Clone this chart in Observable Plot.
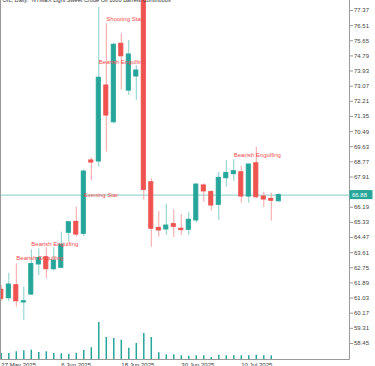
<!DOCTYPE html>
<html><head><meta charset="utf-8">
<script src="https://cdn.jsdelivr.net/npm/d3@7"></script>
<script src="https://cdn.jsdelivr.net/npm/@observablehq/plot@0.6"></script>
<style>
html,body{margin:0;padding:0;background:#fff;}
#chart{position:relative;width:375px;height:366px;overflow:hidden;background:#fff;}
#chart svg{position:absolute;left:0;top:0;}
</style></head><body><div id="chart"></div>
<script>
const title = "OIL, Daily:  NYMEX Light Sweet Crude Oil 1000 Barrels Continuous";
const opens  = [61.50,61.02,61.76,60.78,61.23,62.94,63.35,62.67,62.75,64.74,65.36,64.68,68.85,68.79,73.11,71.02,75.48,72.82,73.62,78.20,67.61,65.02,64.93,65.23,64.97,64.91,65.44,67.43,67.05,66.33,67.84,68.07,68.18,66.80,68.69,66.80,66.67,66.53];
const highs  = [61.75,62.44,62.98,61.65,63.77,63.83,63.89,63.89,64.77,65.38,66.19,68.32,69.00,77.56,76.61,75.51,76.05,75.67,74.24,78.40,67.81,65.95,66.35,66.05,65.78,65.91,67.52,67.52,67.14,68.18,68.85,68.89,68.51,68.62,69.60,67.05,66.99,66.96];
const lows   = [60.85,60.84,60.51,59.76,61.18,62.31,62.14,62.56,62.72,64.21,64.49,64.53,67.71,68.47,69.32,70.93,72.86,72.54,72.26,66.61,63.92,64.49,64.59,64.46,64.59,64.59,65.29,66.48,65.97,65.44,67.33,67.67,66.42,66.42,66.67,66.19,65.40,66.48];
const closes = [60.99,61.80,60.85,60.85,62.96,63.30,62.67,63.16,64.06,65.34,64.64,68.22,68.73,73.55,71.40,75.42,74.77,74.87,73.96,67.18,64.97,64.87,65.15,65.08,64.89,65.48,67.48,67.09,66.29,67.86,68.13,68.24,66.80,68.62,66.76,66.63,66.56,66.88];
const volumes = [60,60,77,87,93,70,77,60,57,53,63,90,117,370,220,210,193,113,160,260,220,67,47,47,37,33,37,37,20,43,37,37,37,37,43,37,37,0];
const dateTickIndex = [0, 8, 16, 24, 32];
const dateTickLabels = ["27 May 2025", "6 Jun 2025", "18 Jun 2025", "30 Jun 2025", "10 Jul 2025"];
const priceTicks = [58.45,59.31,60.17,61.03,61.89,62.75,63.61,64.47,65.33,66.19,67.05,67.91,68.77,69.63,70.49,71.35,72.21,73.07,73.93,74.79,75.65,76.51,77.37];
const patternNames = ["Bearish Engulfing","Bearish Engulfing","Evening Star","Bearish Engulfing","Shooting Star","Bearish Engulfing"];
const patternIndex = [2, 4, 11, 13, 14, 31];
const patternLevel = [63.28, 64.07, 66.86, 74.43, 76.90, 69.13];
const lastPrice = closes[closes.length - 1];

const teal = "#26a69a", red = "#ef5350";
const tealWick = "#86cfc7", redWick = "#f6a3a3";
const W = 375, H = 366, mL = 0, mR = 26, mT = 0, mB = 7;
const xDomain = [-0.107, 46.43];
const font = "'Liberation Sans', Arial, sans-serif";

const data = opens.map((o, i) => ({i, open: o, high: highs[i], low: lows[i], close: closes[i], vol: volumes[i]}));
const up = d => d.close >= d.open;
const patterns = patternNames.map((n, k) => ({name: n, i: patternIndex[k], y: patternLevel[k]}));
const dateTicks = dateTickIndex.map((i, k) => ({i, label: dateTickLabels[k]}));

const volPlot = Plot.plot({
  width: W, height: H, marginLeft: mL, marginRight: mR, marginTop: mT, marginBottom: mB,
  x: {domain: xDomain, axis: null},
  y: {domain: [0, 3590], axis: null},
  style: {background: "white"},
  marks: [
    Plot.ruleX(data, {x: "i", y1: 0, y2: "vol", stroke: teal, strokeWidth: 1.5})
  ]
});

function decor(index, scales, values, dims) {
  const g = d3.create("svg:g");
  const L = dims.marginLeft + 0.5, R = dims.width - dims.marginRight + 0.5, B = dims.height - dims.marginBottom + 0.5;
  g.append("path").attr("d", `M${L},0V${B}H${R}V0`).attr("fill", "none").attr("stroke", "#9a9a9a");
  const yp = scales.y(lastPrice);
  g.append("rect").attr("x", R).attr("y", yp - 4.5).attr("width", 23).attr("height", 9).attr("fill", teal);
  g.append("text").attr("x", R + 2.5).attr("y", yp).attr("dy", "0.35em").attr("fill", "white")
    .attr("text-anchor", "start").attr("font-size", 6).attr("font-family", font).text(lastPrice.toFixed(2));
  return g.node();
}

const mainPlot = Plot.plot({
  width: W, height: H, marginLeft: mL, marginRight: mR, marginTop: mT, marginBottom: mB,
  x: {domain: xDomain, axis: null},
  y: {domain: [57.54, 77.938], axis: null},
  style: {background: "transparent", fontFamily: font, fontSize: "6px"},
  marks: [
    Plot.ruleY([lastPrice], {stroke: tealWick, strokeWidth: 1}),
    Plot.ruleX(data, {x: "i", y1: "low", y2: "high", stroke: d => up(d) ? tealWick : redWick, strokeWidth: 1, clip: true}),
    Plot.rect(data, {x1: d => d.i - 0.27, x2: d => d.i + 0.27, y1: "open", y2: "close",
      fill: d => up(d) ? teal : red, stroke: d => up(d) ? teal : red, strokeWidth: 1, clip: true}),
    Plot.text(patterns, {x: "i", y: "y", text: "name", textAnchor: "start", fill: "#f24d4d", fontSize: 6}),
    Plot.axisY(priceTicks, {anchor: "right", tickSize: 3, tickPadding: 1.5, tickFormat: d => d.toFixed(2), fill: "#444", stroke: "#9a9a9a", fontSize: 6}),
    Plot.text(dateTicks, {x: "i", text: "label", frameAnchor: "bottom", textAnchor: "start", lineAnchor: "bottom", dy: 7, fill: "#333", fontSize: 6}),
    Plot.text([title], {frameAnchor: "top-left", dx: 2, dy: 0, lineAnchor: "middle", fill: "#333", fontSize: 5.6}),
    decor
  ]
});

const el = document.getElementById("chart");
el.appendChild(volPlot);
el.appendChild(mainPlot);
</script></body></html>
